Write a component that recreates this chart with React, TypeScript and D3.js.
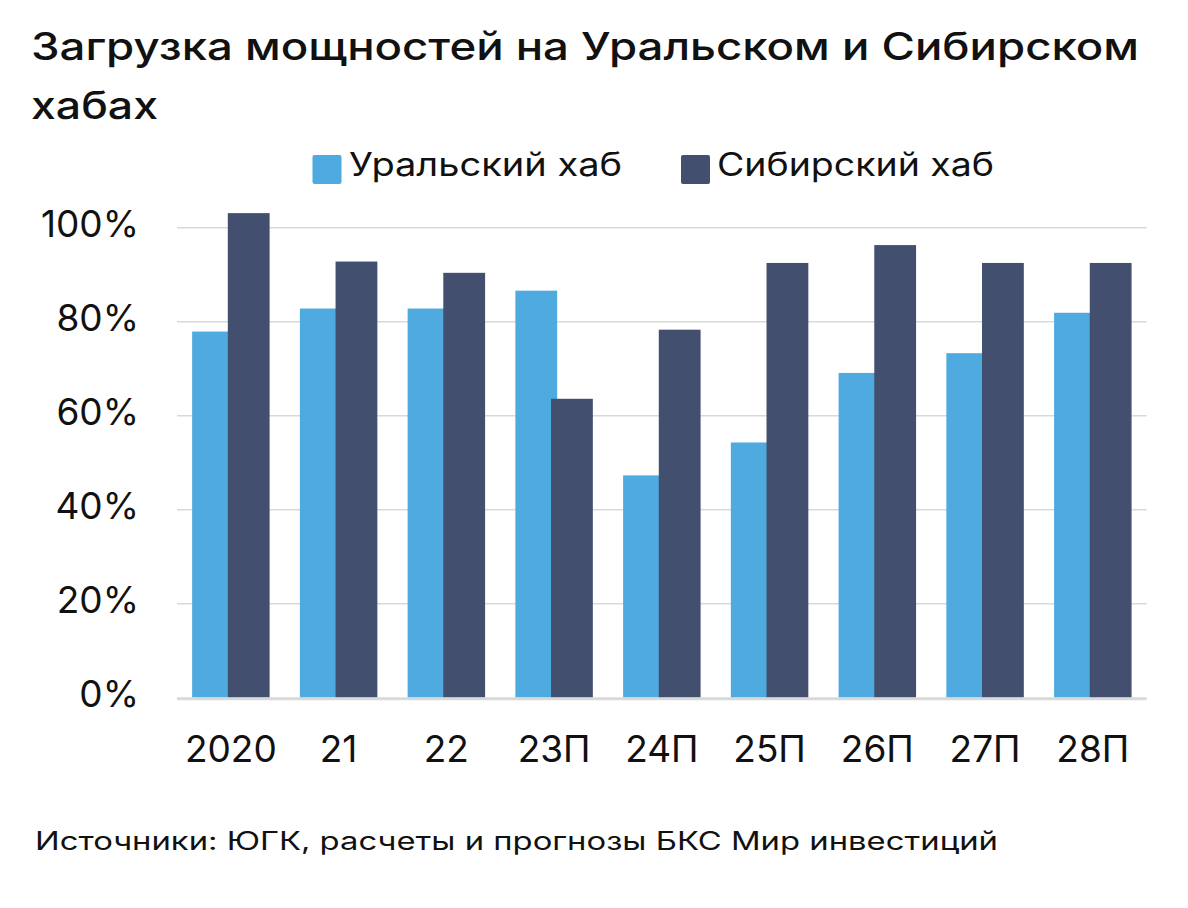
import React from "react";
import * as d3 from "d3";

const categories = ["2020", "21", "22", "23П", "24П", "25П", "26П", "27П", "28П"];
const uralValues = [77.9, 82.8, 82.8, 86.6, 47.3, 54.3, 69.1, 73.3, 81.9];
const siberiaValues = [103.1, 92.8, 90.4, 63.6, 78.3, 92.5, 96.3, 92.5, 92.5];
const yTicks = [0, 20, 40, 60, 80, 100];
const seriesNames = ["Уральский хаб", "Сибирский хаб"];
const seriesColors = ["#4faadf", "#434f6e"];
const titleLines = ["Загрузка мощностей на Уральском и Сибирском", "хабах"];
const sourceText = "Источники: ЮГК, расчеты и прогнозы БКС Мир инвестиций";

const W = 1188;
const H = 908;
const FONT = "Inter, 'Liberation Sans', Arial, sans-serif";

export default function App() {
  const plotLeft = 177;
  const plotRight = 1146.7;
  const y = d3.scaleLinear().domain([0, 100]).range([697.7, 227.7]);
  const x = d3.scaleBand<string>().domain(categories).range([plotLeft, plotRight]).paddingInner(0).paddingOuter(0);
  const step = x.bandwidth();
  const barW = step * 0.388;
  const groupW = step * 0.719;
  const offsetLight = (step - groupW) / 2;
  const offsetDark = offsetLight + step * 0.331;

  return (
    <svg width={W} height={H} viewBox={`0 0 ${W} ${H}`} style={{ display: "block", position: "absolute", left: 0, top: 0 }}>
      <rect x={0} y={0} width={W} height={H} fill="#ffffff" />
      {/* title */}
      <g fontFamily={FONT} fontWeight={500} fill="#111">
        <text x={31} y={60} fontSize={38} textLength={1108} lengthAdjust="spacingAndGlyphs">{titleLines[0]}</text>
        <text x={31} y={119} fontSize={38} textLength={127} lengthAdjust="spacingAndGlyphs">{titleLines[1]}</text>
      </g>
      {/* legend */}
      <g fontFamily={FONT} fill="#111">
        <rect x={312.5} y={155} width={29} height={29} rx={2} fill={seriesColors[0]} />
        <text x={349} y={176} fontSize={32} textLength={273} lengthAdjust="spacingAndGlyphs">{seriesNames[0]}</text>
        <rect x={681} y={155} width={29} height={29} rx={2} fill={seriesColors[1]} />
        <text x={717} y={176} fontSize={32} textLength={277} lengthAdjust="spacingAndGlyphs">{seriesNames[1]}</text>
      </g>
      {/* gridlines */}
      {yTicks.filter((t) => t > 0).map((t) => (
        <line key={t} x1={plotLeft} x2={plotRight} y1={y(t)} y2={y(t)} stroke="#d9d9d9" strokeWidth={1.5} />
      ))}
      {/* y labels */}
      <g fontFamily={FONT} fontSize={37} fill="#111" textAnchor="end">
        {yTicks.map((t) => (
          <text key={t} x={139} y={y(t) + 9}>{`${t}%`}</text>
        ))}
      </g>
      {/* bars */}
      {categories.map((c, i) => (
        <g key={c}>
          <rect x={(x(c) as number) + offsetLight} y={y(uralValues[i])} width={barW} height={y(0) - y(uralValues[i])} fill={seriesColors[0]} />
          <rect x={(x(c) as number) + offsetDark} y={y(siberiaValues[i])} width={barW} height={y(0) - y(siberiaValues[i])} fill={seriesColors[1]} />
        </g>
      ))}
      {/* baseline */}
      <line x1={plotLeft} x2={plotRight} y1={y(0) + 1} y2={y(0) + 1} stroke="#d9d9d9" strokeWidth={3} />
      {/* x labels */}
      <g fontFamily={FONT} fontSize={37} fill="#111" textAnchor="middle">
        {categories.map((c) => (
          <text key={c} x={(x(c) as number) + step / 2} y={762}>{c}</text>
        ))}
      </g>
      {/* source */}
      <text x={35} y={850} fontFamily={FONT} fontSize={25} fill="#111" textLength={963} lengthAdjust="spacingAndGlyphs">{sourceText}</text>
    </svg>
  );
}
